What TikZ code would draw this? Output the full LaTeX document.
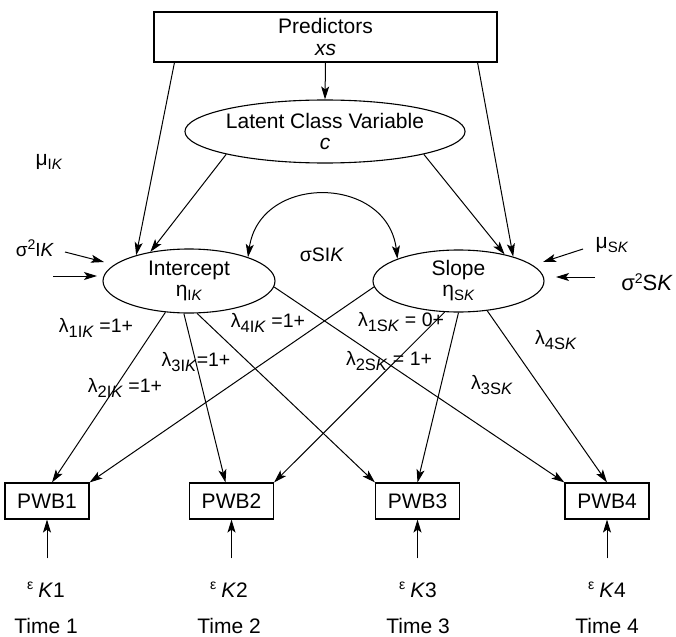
\documentclass[tikz,border=0pt]{standalone}
\usepackage{fontspec}
\setmainfont{Liberation Sans}
\usetikzlibrary{shapes.geometric,arrows.meta}

% index helpers: lowered subscript, raised superscript, italic K
\newcommand{\lowix}[1]{\raisebox{-5pt}{\fontsize{16.5}{16.5}\selectfont #1}}
\newcommand{\smlowix}[1]{\raisebox{-4pt}{\fontsize{15}{15}\selectfont #1}}
\newcommand{\upix}[1]{\raisebox{7.5pt}{\fontsize{14}{14}\selectfont #1}}
\newcommand{\Kit}{\textit{K}}
\newcommand{\epslab}[1]{\raisebox{8pt}{\fontsize{14}{14}\selectfont ε}\hspace{5pt}\textit{K}#1}

\tikzset{
  bigfont/.style={font=\fontsize{21}{24}\selectfont},
  txt/.style={inner sep=0pt, bigfont},
  lam/.style={inner sep=0pt, font=\fontsize{19.5}{22}\selectfont},
  predbox/.style={draw, line width=1.1pt, minimum width=343pt, minimum height=50pt,
    inner sep=0pt, align=center, bigfont},
  obsbox/.style={draw, line width=1.1pt, minimum width=84pt, minimum height=36pt,
    inner sep=0pt, bigfont},
  latent/.style={draw, ellipse, line width=1.1pt, inner sep=0pt, align=center, bigfont},
  link/.style={line width=1pt, -{Stealth[length=13pt,width=8pt,inset=3pt]}},
  twoway/.style={line width=1pt,
    {Stealth[length=13pt,width=8pt,inset=3pt]}-{Stealth[length=13pt,width=8pt,inset=3pt]}},
}

\begin{document}
\begin{tikzpicture}[x=1pt,y=-1pt]
\useasboundingbox (0,0) rectangle (676,636);

% top level
\node[predbox] (pred) at (325.5,37) {Predictors\\[-2pt]\textit{xs}};
\node[latent, minimum width=242pt, minimum height=63pt] (lcv) at (325,131.5)
  {Latent Class Variable\\[-3pt]\textit{c}};

% growth factors
\node[latent, minimum width=172pt, minimum height=64pt] (icpt) at (189,281)
  {Intercept\\[-3pt]η\smlowix{I\Kit}};
\node[latent, minimum width=171pt, minimum height=62pt] (slope) at (458.5,281)
  {Slope\\[-3pt]η\smlowix{S\Kit}};

% observed measures
\node[obsbox] (pwb1) at (47,501) {PWB1};
\node[obsbox] (pwb2) at (231.5,501) {PWB2};
\node[obsbox] (pwb3) at (417.5,501) {PWB3};
\node[obsbox] (pwb4) at (607,501) {PWB4};

% residuals
\node[txt, anchor=base] (eps1) at (46,597) {\epslab{1}};
\node[txt, anchor=base] (eps2) at (229,597) {\epslab{2}};
\node[txt, anchor=base] (eps3) at (418,597) {\epslab{3}};
\node[txt, anchor=base] (eps4) at (607,597) {\epslab{4}};

% occasions
\node[txt, anchor=base] (t1) at (46,633) {Time 1};
\node[txt, anchor=base] (t2) at (229,633) {Time 2};
\node[txt, anchor=base] (t3) at (418,633) {Time 3};
\node[txt, anchor=base] (t4) at (607,633) {Time 4};

% means and variances
\node[txt] (muik) at (49,162) {μ\smlowix{I\Kit}};
\node[inner sep=0pt, font=\fontsize{19}{22}\selectfont] (s2ik) at (35,248) {σ\upix{2}I\Kit};
\node[inner sep=0pt, font=\fontsize{19.5}{22}\selectfont] (ssik) at (322,255) {σSI\Kit};
\node[txt] (musk) at (612,245) {μ\smlowix{S\Kit}};
\node[inner sep=0pt, font=\fontsize{22}{24}\selectfont] (s2sk) at (647,282) {σ\upix{2}S\Kit};

% loadings
\node[lam] (l1i) at (96,328) {λ\lowix{1I\Kit} =1+};
\node[lam] (l3i) at (196,362) {λ\lowix{3I\Kit}=1+};
\node[lam] (l2i) at (125,388) {λ\lowix{2I\Kit} =1+};
\node[lam] (l4i) at (268,323) {λ\lowix{4I\Kit} =1+};
\node[lam] (l1s) at (401,322) {λ\lowix{1S\Kit} = 0+};
\node[lam] (l2s) at (389,361) {λ\lowix{2S\Kit} = 1+};
\node[lam] (l4s) at (556,340) {λ\lowix{4S\Kit}};
\node[lam] (l3s) at (492,385) {λ\lowix{3S\Kit}};

% free arrow ends
\coordinate (s2ikTail) at (65,252);
\coordinate (s2ikTip) at (104,262);
\coordinate (muikTail) at (53,276);
\coordinate (muikTip) at (97,276);
\coordinate (muskTail) at (583,249);
\coordinate (muskTip) at (543,262);
\coordinate (s2skTail) at (595,277);
\coordinate (s2skTip) at (556,277);

% predictors and classes
\draw[link] (pred.south) -- (lcv.north);
\draw[link] ([xshift=21pt]pred.south west) -- (icpt.154);
\draw[link] ([xshift=-20pt]pred.south east) -- (slope.24);
\draw[link] (lcv.193) -- (icpt.143);
\draw[link] (lcv.347) -- (slope.30);

% factor covariance
\draw[twoway] (icpt.22) .. controls +(12,-84) and +(-10,-84) .. (slope.160);

% means and variances into factors
\draw[link] (s2ikTail) -- (s2ikTip);
\draw[link] (muikTail) -- (muikTip);
\draw[link] (muskTail) -- (muskTip);
\draw[link] (s2skTail) -- (s2skTip);

% intercept loadings
\draw[link] (icpt.233) -- ([xshift=5pt]pwb1.north);
\draw[link] (icpt.261) -- ([xshift=-6pt]pwb2.north);
\draw[link] (icpt.284) -- (pwb3.north west);
\draw[link] (icpt.356) -- (pwb4.north west);

% slope loadings
\draw[link] (slope.184) -- (pwb1.north east);
\draw[link] (slope.246) -- (pwb2.north east);
\draw[link] (slope.270) -- (pwb3.north);
\draw[link] (slope.314) -- (pwb4.north);

% residuals into measures
\draw[link, shorten <=23pt] (pwb1.south |- eps1.north) -- (pwb1.south);
\draw[link, shorten <=23pt] (pwb2.south |- eps2.north) -- (pwb2.south);
\draw[link, shorten <=23pt] (pwb3.south |- eps3.north) -- (pwb3.south);
\draw[link, shorten <=23pt] (pwb4.south |- eps4.north) -- (pwb4.south);
\end{tikzpicture}
\end{document}
